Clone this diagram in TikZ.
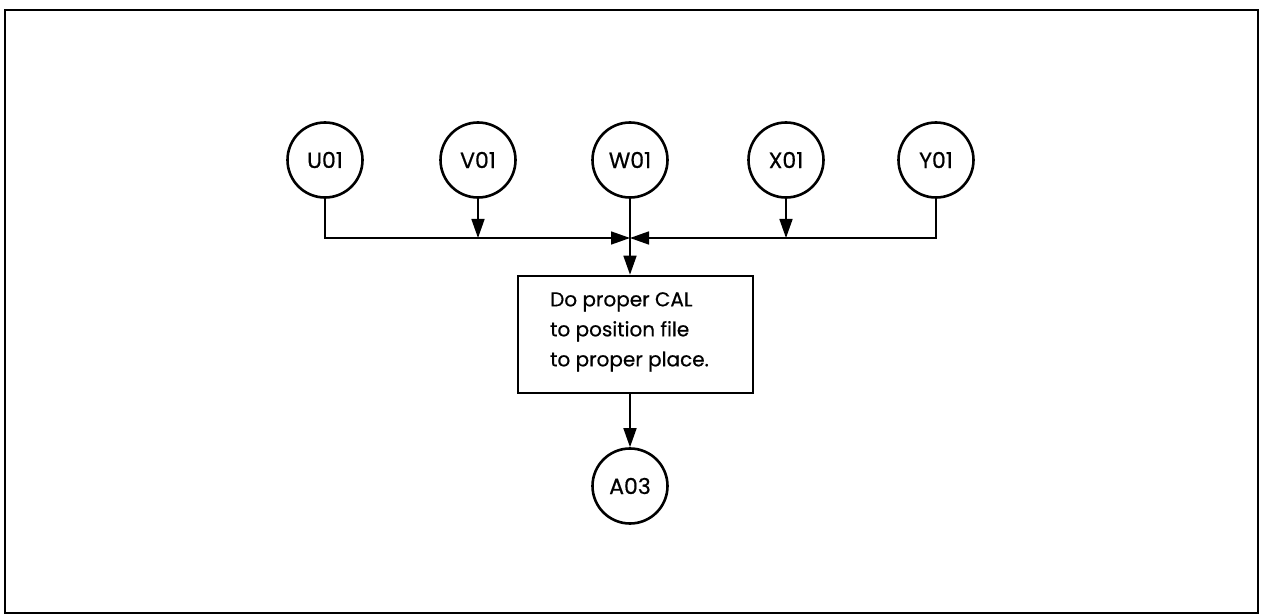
\documentclass[tikz,border=0pt]{standalone}
\usepackage{fontspec}
\setmainfont{Poppins}[FakeBold=0.6]
\usetikzlibrary{arrows.meta}
\tikzset{
  conn/.style={line width=1.6bp, draw=black},
  arr/.style={conn, -{Triangle[length=19bp,width=13bp]}},
  term/.style={draw=black, line width=2.6bp, termshape, font=\fontsize{22bp}{26bp}\selectfont},
  termshape/.style={circle, minimum size=75bp, inner sep=0pt},
  procbox/.style={draw=black, line width=2.6bp, minimum width=235bp, minimum height=117bp, inner sep=0pt},
  btext/.style={align=left, font=\fontsize{20bp}{30bp}\selectfont, inner sep=0pt}
}
\begin{document}
\begin{tikzpicture}[x=1bp, y=-1bp]
\useasboundingbox (0,0) rectangle (1262,616);
\draw[line width=2.6bp] (5,10) rectangle (1258,613);
\node[term] (U) at (325,160) {U01};
\node[term] (V) at (478,160) {V01};
\node[term] (W) at (630,160) {W01};
\node[term] (X) at (786,160) {X01};
\node[term] (Y) at (936,160) {Y01};
\node[procbox] (B) at (635.5,334.5) {};
\node[btext, anchor=north west] (T) at (550,292) {Do proper CAL\\to position file\\to proper place.};
\node[term] (A) at (630,486) {A03};
\coordinate (J) at (630,238);
\draw[arr] (U.south) |- (J);
\draw[arr] (Y.south) |- (J);
\draw[arr] (V.south) -- (V.south |- J);
\draw[arr] (X.south) -- (X.south |- J);
\draw[arr] (W.south) -- (W.south |- B.north);
\draw[arr] (B.south -| A.north) -- (A.north);
\end{tikzpicture}
\end{document}
